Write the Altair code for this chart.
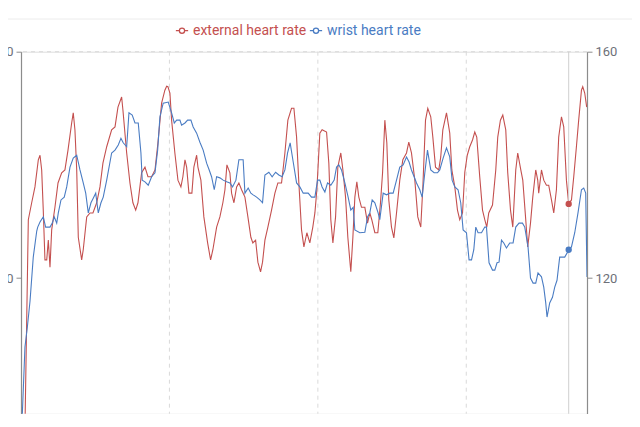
import altair as alt
import pandas as pd

# ---- data (t in seconds, heart rate in bpm) ----
t_external = [
    3.0, 7.4, 10.8, 14.1, 17.5, 19.2, 20.9, 22.5, 24.2, 26.0,
    27.6, 29.3, 31.0, 34.3, 37.4, 41.1, 44.4, 47.5, 51.2, 52.8,
    54.5, 56.3, 57.9, 61.3, 62.9, 66.4, 69.7, 72.7, 76.5, 79.8,
    82.8, 86.6, 91.6, 95.0, 98.0, 101.7, 103.0, 106.8, 110.1, 113.1,
    115.9, 118.2, 121.9, 125.3, 128.3, 132.0, 135.4, 138.4, 142.1, 145.4,
    147.2, 148.5, 150.5, 152.2, 155.5, 158.6, 161.6, 163.6, 165.7, 167.4,
    169.7, 172.7, 174.7, 177.5, 178.8, 181.8, 184.8, 188.6, 191.6, 193.9,
    197.7, 201.0, 204.0, 206.1, 208.1, 211.1, 212.8, 215.2, 217.9, 220.2,
    222.9, 226.3, 229.3, 232.3, 234.3, 237.1, 239.4, 242.1, 244.1, 246.5,
    249.5, 253.2, 256.6, 259.6, 263.3, 266.7, 269.7, 273.4, 275.8, 278.5,
    280.8, 283.5, 285.9, 288.9, 291.9, 294.9, 297.0, 299.0, 302.0, 304.3,
    308.8, 311.1, 313.1, 315.2, 317.9, 320.2, 323.2, 325.3, 328.0, 330.3,
    333.3, 335.4, 337.4, 339.4, 341.4, 344.1, 347.5, 350.2, 352.5, 354.5,
    357.6, 360.6, 363.3, 365.4, 367.7, 369.7, 371.7, 374.4, 376.8, 379.5,
    382.8, 385.9, 389.6, 391.9, 394.6, 398.0, 401.0, 404.0, 406.1, 408.8,
    411.1, 414.1, 416.2, 418.9, 422.2, 424.2, 426.3, 430.0, 433.3, 435.4,
    438.4, 441.1, 443.4, 446.2, 448.5, 451.0, 453.5, 456.3, 458.6, 460.6,
    463.6, 466.4, 468.7, 470.7, 472.7, 476.5, 479.8, 481.8, 484.5, 486.9,
    489.9, 491.9, 494.7, 497.0, 500.0, 502.0, 505.1, 507.1, 510.1, 512.1,
    514.9, 517.2, 520.2, 522.2, 523.2, 526.0, 528.3, 531.0, 533.3, 536.1,
    538.4, 541.1, 543.4, 546.2, 548.5, 551.2, 553.5, 556.3, 558.6, 561.3,
    563.6, 566.4, 567.7, 569.7, 571.7,
]
hr_external = [
    82.8, 130.3, 133.3, 136.1, 140.9, 141.7, 139.1, 132.0, 123.2, 123.2,
    126.7, 121.9, 128.5, 132.5, 136.8, 138.6, 139.1, 142.6, 147.4, 149.2,
    146.2, 139.1, 127.2, 123.2, 125.0, 130.8, 131.5, 131.5, 133.3, 136.1,
    140.3, 143.2, 146.2, 146.7, 150.2, 152.0, 149.7, 142.1, 136.8, 133.3,
    132.0, 133.3, 138.6, 139.6, 137.9, 137.9, 139.1, 143.9, 150.9, 153.2,
    153.9, 153.8, 152.7, 147.9, 142.1, 137.3, 136.1, 137.9, 140.9, 139.6,
    135.0, 135.0, 139.6, 141.7, 139.6, 137.3, 130.8, 126.2, 123.2, 125.0,
    129.0, 130.8, 133.3, 135.6, 140.0, 138.6, 135.0, 133.3, 136.1, 136.8,
    135.6, 134.3, 130.8, 127.2, 126.2, 126.7, 122.8, 121.1, 122.8, 126.7,
    129.0, 132.0, 135.0, 136.8, 136.8, 142.1, 147.9, 150.0, 150.0, 144.9,
    136.8, 128.5, 125.5, 128.0, 126.2, 129.0, 131.5, 135.6, 145.6, 146.2,
    145.8, 140.3, 130.3, 126.2, 130.8, 139.6, 142.1, 139.1, 134.3, 127.2,
    121.1, 127.2, 134.3, 137.0, 134.3, 132.5, 132.5, 129.7, 131.5, 130.3,
    128.0, 128.0, 133.3, 138.6, 147.9, 143.9, 133.8, 129.0, 127.1, 131.5,
    137.3, 140.9, 142.1, 144.0, 142.1, 137.3, 130.8, 129.0, 136.1, 147.9,
    150.0, 148.5, 144.9, 139.6, 139.1, 141.4, 146.2, 149.2, 145.6, 139.1,
    136.1, 132.0, 130.3, 131.5, 138.7, 141.7, 143.2, 144.4, 145.8, 144.9,
    137.9, 132.0, 130.3, 129.0, 131.5, 132.9, 139.1, 144.9, 147.9, 148.8,
    146.2, 138.6, 132.0, 129.0, 139.1, 142.1, 139.1, 137.3, 130.3, 125.5,
    129.7, 134.3, 139.1, 137.3, 135.0, 139.1, 137.3, 136.4, 136.4, 133.8,
    131.5, 135.6, 144.9, 148.5, 146.7, 137.3, 133.1, 133.8, 137.9, 143.2,
    147.9, 153.2, 153.8, 152.7, 150.2,
]

t_wrist = [
    0.0, 4.0, 6.4, 9.1, 12.4, 15.9, 16.9, 19.2, 22.5, 24.9,
    29.3, 31.6, 33.6, 36.1, 37.7, 40.4, 43.7, 46.2, 49.5, 52.8,
    56.3, 59.6, 62.9, 65.4, 68.0, 70.7, 73.0, 75.5, 78.1, 80.8,
    83.1, 86.6, 91.6, 95.0, 98.3, 101.0, 103.3, 106.8, 109.1, 112.4,
    115.2, 118.5, 121.2, 122.5, 125.3, 128.6, 132.0, 135.4, 138.1, 140.4,
    143.7, 148.8, 152.2, 154.9, 157.3, 160.6, 162.3, 165.7, 168.4, 171.7,
    174.0, 177.5, 180.8, 184.1, 187.6, 190.2, 192.6, 195.3, 197.7, 201.0,
    204.3, 207.8, 211.1, 213.8, 217.2, 220.2, 224.5, 226.3, 229.6, 232.3,
    234.6, 238.1, 241.4, 244.1, 246.5, 250.5, 253.8, 257.3, 260.6, 263.9,
    266.7, 269.4, 272.0, 275.1, 278.5, 281.8, 285.2, 290.2, 293.6, 297.0,
    299.7, 302.0, 304.3, 307.1, 309.8, 313.1, 316.5, 318.9, 321.2, 323.9,
    327.3, 330.6, 333.3, 335.7, 337.4, 342.4, 347.5, 350.2, 352.5, 354.9,
    357.6, 360.9, 362.6, 366.0, 369.4, 372.7, 376.1, 379.5, 382.8, 386.2,
    389.6, 392.2, 394.6, 397.3, 399.7, 403.0, 405.4, 408.1, 410.8, 414.1,
    417.5, 420.9, 423.2, 426.6, 430.0, 433.3, 435.7, 438.4, 441.7, 444.4,
    446.8, 450.2, 452.8, 455.3, 457.6, 459.6, 461.9, 465.4, 468.7, 470.4,
    473.0, 476.5, 478.8, 481.1, 483.1, 485.6, 487.9, 490.6, 493.9, 497.3,
    500.0, 503.3, 506.8, 509.1, 512.4, 514.9, 517.5, 520.2, 522.5, 526.0,
    528.3, 530.3, 531.6, 534.3, 537.1, 539.4, 541.7, 544.4, 547.2, 549.5,
    551.8, 553.5, 556.3, 559.6, 562.9, 566.4, 568.7, 570.7, 572.0,
]
hr_wrist = [
    90.0, 107.8, 111.3, 115.9, 123.7, 128.3, 129.0, 129.9, 130.8, 129.0,
    129.0, 129.7, 130.8, 129.7, 131.5, 133.8, 134.3, 136.1, 139.6, 141.2,
    141.7, 139.1, 136.8, 135.0, 131.5, 133.3, 134.1, 135.0, 131.5, 133.3,
    134.3, 137.3, 142.1, 142.6, 143.5, 144.7, 143.9, 143.2, 149.2, 148.8,
    147.4, 147.4, 142.1, 137.3, 137.0, 136.4, 137.9, 138.6, 142.6, 148.5,
    150.9, 151.1, 149.2, 147.4, 147.9, 147.9, 147.0, 147.4, 147.9, 147.9,
    146.7, 145.6, 144.0, 142.6, 140.3, 139.1, 137.9, 135.6, 137.9, 137.7,
    137.3, 137.0, 136.8, 136.1, 137.3, 140.9, 140.9, 135.0, 135.9, 135.0,
    134.7, 134.3, 133.8, 133.3, 138.2, 138.7, 137.9, 138.7, 138.2, 137.9,
    139.1, 142.1, 143.9, 140.5, 136.8, 136.1, 135.0, 135.0, 134.3, 134.3,
    137.3, 137.3, 136.1, 135.2, 136.8, 136.4, 137.3, 139.6, 140.0, 139.1,
    136.8, 134.3, 132.0, 132.5, 128.5, 128.0, 128.1, 130.8, 131.5, 133.8,
    133.3, 131.5, 130.3, 135.0, 134.7, 135.0, 135.0, 137.3, 139.6, 140.0,
    141.4, 140.5, 139.1, 137.9, 136.8, 135.6, 134.3, 138.6, 142.6, 139.1,
    138.6, 138.6, 139.1, 141.2, 143.0, 141.4, 137.3, 136.1, 135.6, 133.3,
    128.5, 128.0, 123.2, 123.2, 125.0, 129.0, 128.0, 128.0, 129.0, 129.0,
    122.7, 121.4, 121.4, 122.7, 122.8, 126.7, 126.2, 125.3, 126.2, 126.2,
    129.0, 129.7, 129.7, 129.0, 125.5, 120.0, 119.1, 119.1, 120.9, 120.2,
    118.4, 115.6, 113.1, 115.6, 116.6, 118.4, 119.6, 123.7, 123.7, 123.7,
    124.4, 125.0, 125.5, 128.0, 131.5, 135.6, 135.9, 135.0, 120.2,
]

series_names = ["external heart rate", "wrist heart rate"]
series_colors = ["#c4504f", "#4a7cc3"]

cursor_t = 553.5
cursor_values = [133.1, 125.0]

x_grid_values = [150, 300, 450]
y_ticks = [120, 160]
y_domain = [96, 160]
x_domain = [0, 572]

assert len(t_external) == len(hr_external)
assert len(t_wrist) == len(hr_wrist)

lines_df = pd.concat([
    pd.DataFrame({"t": t_external, "hr": hr_external, "series": series_names[0]}),
    pd.DataFrame({"t": t_wrist, "hr": hr_wrist, "series": series_names[1]}),
], ignore_index=True)
cursor_df = pd.DataFrame({"t": [cursor_t, cursor_t], "hr": cursor_values,
                          "series": series_names, "c": series_colors})

FONT = "Roboto"
AXIS_GREY = "#8c8c8c"
LABEL_GREY = "#6e7079"
GRID = "#dadada"

xs = alt.Scale(domain=x_domain, nice=False, zero=False)
ys = alt.Scale(domain=y_domain, nice=False, zero=False)


def y_axis(orient):
    return alt.Axis(orient=orient, values=y_ticks, grid=False, title=None,
                    domainColor=AXIS_GREY, tickColor=AXIS_GREY, labelColor=LABEL_GREY,
                    labelFont=FONT, labelFontSize=13, tickSize=5, labelPadding=3,
                    domainWidth=1.2)


top_border = alt.Chart(pd.DataFrame({"k": [0]})).mark_rule(color="#ececec", strokeWidth=1).encode(
    x=alt.value(-13), x2=alt.value(611), y=alt.value(-32.7)
)

vgrid = alt.Chart(pd.DataFrame({"t": x_grid_values})).mark_rule(
    color=GRID, strokeDash=[4, 4], strokeWidth=1
).encode(x=alt.X("t:Q", scale=xs, axis=None))

hgrid = alt.Chart(pd.DataFrame({"hr": [160]})).mark_rule(
    color=GRID, strokeDash=[4, 4], strokeWidth=1
).encode(y=alt.Y("hr:Q", scale=ys, axis=None))

legend = alt.Legend(
    title=None, orient="none", legendX=154, legendY=-28, direction="horizontal",
    symbolType="M-1,0H-0.42M0.42,0H1M0.42,0A0.42,0.42,0,1,1,-0.42,0A0.42,0.42,0,1,1,0.42,0",
    symbolSize=150, symbolStrokeWidth=1.3, symbolFillColor="white",
    labelFont=FONT, labelFontSize=14, labelOffset=4, columnPadding=0, padding=0,
    labelColor=alt.ExprRef("datum.label == 'external heart rate' ? '#c4504f' : '#4a7cc3'"),
)

lines = alt.Chart(lines_df).mark_line(strokeWidth=1.1, clip=True).encode(
    x=alt.X("t:Q", scale=xs, axis=None),
    y=alt.Y("hr:Q", scale=ys, axis=y_axis("left")),
    color=alt.Color("series:N", scale=alt.Scale(domain=series_names, range=series_colors),
                    legend=legend),
    detail="series:N",
)

cursor_line = alt.Chart(pd.DataFrame({"t": [cursor_t]})).mark_rule(
    color="#cfcfcf", strokeWidth=1
).encode(x=alt.X("t:Q", scale=xs, axis=None))

dots = alt.Chart(cursor_df).mark_circle(size=40, opacity=1).encode(
    x=alt.X("t:Q", scale=xs, axis=None),
    y=alt.Y("hr:Q", scale=ys, axis=y_axis("right")),
    color=alt.Color("c:N", scale=None, legend=None),
)

chart = alt.layer(top_border, vgrid, hgrid, lines, cursor_line, dots).resolve_scale(
    y="independent"
).properties(
    width=566, height=362.1,
    padding={"left": 13, "top": 43.7, "right": 45, "bottom": 0},
    autosize=alt.AutoSizeParams(type="none"),
).configure_view(stroke=None).configure(font=FONT)

chart.save("out.html", embed_options={"renderer": "svg", "actions": False})
